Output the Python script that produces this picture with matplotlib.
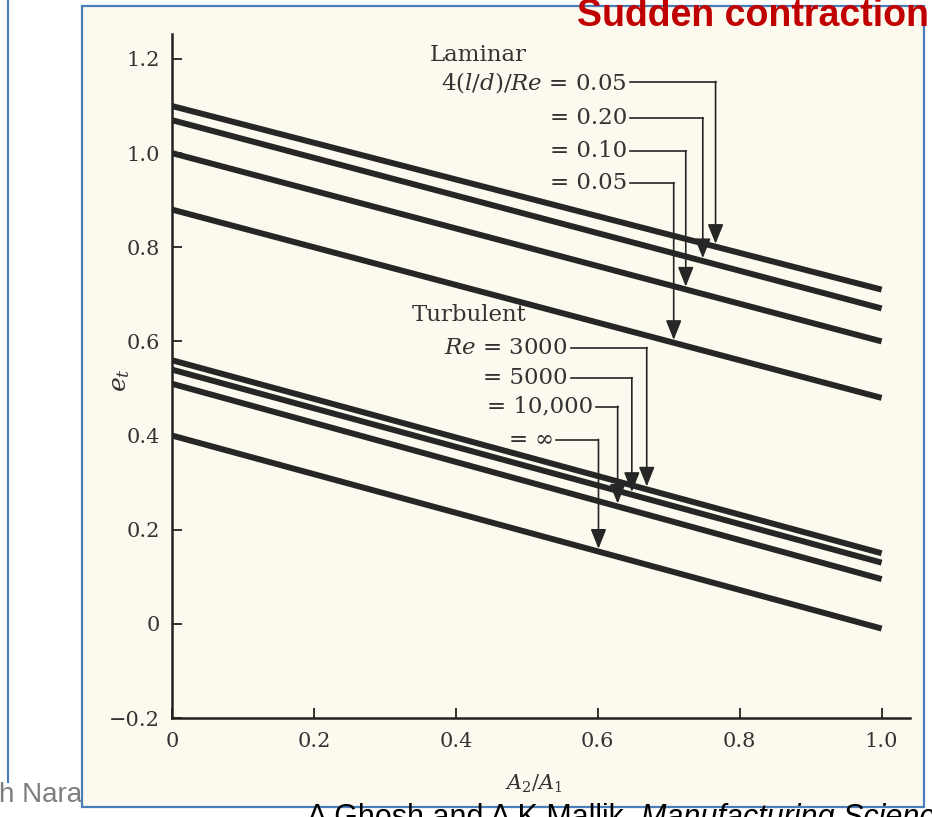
import numpy as np
import matplotlib
matplotlib.use("Agg")
import matplotlib.pyplot as plt
from matplotlib.patches import Rectangle
from matplotlib.lines import Line2D

# ---------------- data ----------------
x_ends = [0.0, 1.0]
laminar_labels = ["0.05", "0.20", "0.10", "0.05"]
laminar_start = [1.10, 1.07, 1.00, 0.88]
laminar_end = [0.71, 0.67, 0.60, 0.48]
turbulent_labels = ["3000", "5000", "10,000", r"$\infty$"]
turbulent_start = [0.56, 0.54, 0.51, 0.40]
turbulent_end = [0.15, 0.13, 0.095, -0.01]
xticks = [0.0, 0.2, 0.4, 0.6, 0.8, 1.0]
xtick_labels = ["0", "0.2", "0.4", "0.6", "0.8", "1.0"]
yticks = [-0.2, 0.0, 0.2, 0.4, 0.6, 0.8, 1.0, 1.2]
ytick_labels = ["\u22120.2", "0", "0.2", "0.4", "0.6", "0.8", "1.0", "1.2"]

# ---------------- layout ----------------
W, H = 932, 817
plt.rcParams["mathtext.fontset"] = "dejavuserif"
SERIF = ["DejaVu Serif"]
SANS = ["Liberation Sans", "DejaVu Sans"]
LINE_C = "#262626"
TEXT_C = "#333333"

fig = plt.figure(figsize=(W / 100, H / 100), dpi=100)
fig.patch.set_facecolor("white")

def fx(px):
    return px / W

def fy(py):
    return 1 - py / H

# slide decorations
fig.add_artist(Line2D([fx(8), fx(8)], [fy(0), fy(782)], color="#4a7ebb", lw=1.5, zorder=0.5))
fig.text(fx(-1), fy(795), "h Narayanan", fontsize=20, color="#7f7f7f",
         family=SANS, ha="left", va="center", zorder=0.6)
frame = Rectangle((fx(82), fy(807)), fx(924) - fx(82), fy(6) - fy(807),
                  transform=fig.transFigure, facecolor="#fcf9ee", edgecolor="#4a7ebb",
                  lw=1.6, zorder=1)
fig.add_artist(frame)
fig.text(fx(929), fy(-2), "Sudden contraction", fontsize=27, fontweight="bold",
         color="#c00000", family=SANS, ha="right", va="top", zorder=5)
t1 = fig.text(fx(307), fy(803), "A Ghosh and A K Mallik, ", fontsize=22, color="black",
              family=SANS, ha="left", va="top", zorder=5)
fig.canvas.draw()
bb = t1.get_window_extent()
fig.text(bb.x1 / W, fy(803), "Manufacturing Science", fontsize=22, color="black",
         style="italic", family=SANS, ha="left", va="top", zorder=5)

# ---------------- axes ----------------
ax = fig.add_axes([fx(172), fy(718), fx(910) - fx(172), (718 - 34) / H])
ax.set_zorder(2)
ax.patch.set_visible(False)
ax.set_xlim(0, 1.04)
ax.set_ylim(-0.2, 1.253)
for s in ("top", "right"):
    ax.spines[s].set_visible(False)
for s in ("left", "bottom"):
    ax.spines[s].set_linewidth(1.8)
    ax.spines[s].set_color("#222222")

ax.set_xticks(xticks)
ax.set_xticklabels(xtick_labels)
ax.set_yticks(yticks)
ax.set_yticklabels(ytick_labels)
ax.tick_params(direction="in", length=7, width=1.3, color="#222222",
               labelsize=15, labelcolor=TEXT_C)
ax.tick_params(axis="x", pad=10)
ax.tick_params(axis="y", pad=9)
for lab in ax.get_xticklabels() + ax.get_yticklabels():
    lab.set_family(SERIF)

# lines
for s, e in zip(laminar_start, laminar_end):
    ax.plot(x_ends, [s, e], color=LINE_C, lw=4.3, solid_capstyle="butt")
for s, e in zip(turbulent_start, turbulent_end):
    ax.plot(x_ends, [s, e], color=LINE_C, lw=4.3, solid_capstyle="butt")

ANN_FS = 16.5

# annotations
def leader(text_x, text_y, arrow_x, s, e, label):
    ax.text(text_x, text_y, label, ha="right", va="center", fontsize=ANN_FS,
            family=SERIF, color=TEXT_C)
    ax.plot([text_x + 0.004, arrow_x], [text_y, text_y], color=LINE_C, lw=1.2)
    tip = np.interp(arrow_x, x_ends, [s, e]) + 0.006
    ax.annotate("", xy=(arrow_x, tip), xytext=(arrow_x, text_y + 0.001),
                arrowprops=dict(arrowstyle="-|>,head_length=0.6,head_width=0.24",
                                mutation_scale=20, color=LINE_C, lw=1.2,
                                shrinkA=0, shrinkB=0))

ax.text(0.363, 1.208, "Laminar", ha="left", va="center", fontsize=ANN_FS,
        family=SERIF, color=TEXT_C)
lam_text_x = [0.641, 0.641, 0.641, 0.641]
lam_text_y = [1.151, 1.074, 1.004, 0.936]
lam_arrow_x = [0.766, 0.748, 0.724, 0.707]
for i, lab in enumerate(laminar_labels):
    prefix = r"4($l$/$d$)/$Re$ = " if i == 0 else "= "
    leader(lam_text_x[i], lam_text_y[i], lam_arrow_x[i],
           laminar_start[i], laminar_end[i], prefix + lab)

ax.text(0.338, 0.656, "Turbulent", ha="left", va="center", fontsize=ANN_FS,
        family=SERIF, color=TEXT_C)
tur_text_x = [0.558, 0.558, 0.593, 0.537]
tur_text_y = [0.586, 0.522, 0.461, 0.391]
tur_arrow_x = [0.669, 0.648, 0.628, 0.601]
for i, lab in enumerate(turbulent_labels):
    prefix = r"$Re$ = " if i == 0 else "= "
    leader(tur_text_x[i], tur_text_y[i], tur_arrow_x[i],
           turbulent_start[i], turbulent_end[i], prefix + lab)

# axis labels
fig.text(fx(534), fy(784), r"$A_2/A_1$", fontsize=15, color=TEXT_C, ha="center", va="center")
fig.text(fx(120), fy(380), r"$e_t$", fontsize=18, color=TEXT_C, ha="center", va="center",
         rotation=90)

fig.savefig("out.png", dpi=100, facecolor="white")
